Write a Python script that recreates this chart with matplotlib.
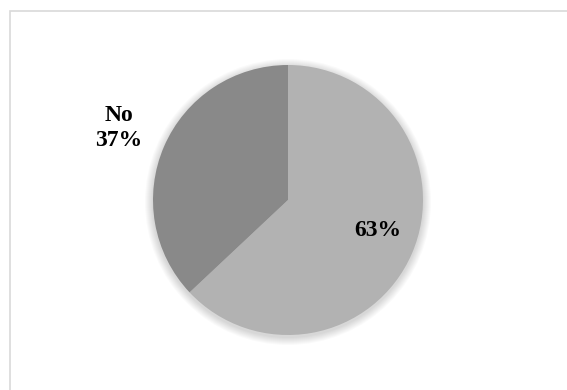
import matplotlib
matplotlib.use("Agg")
import matplotlib.pyplot as plt
import matplotlib.patches as patches

# Data
labels = ["Yes", "No"]
shares = [63, 37]
colors = ["#b2b2b2", "#898989"]

W, H = 567, 390
fig = plt.figure(figsize=(W / 100, H / 100), dpi=100)
ax = fig.add_axes([0, 0, 1, 1])

cx, cy, r = 288, H - 200, 135

# soft shadow behind the pie
for k in range(8, 0, -1):
    ax.add_patch(patches.Circle((cx, cy - 2), r + k, fc="#000000", ec="none",
                                alpha=0.018, zorder=0))

ax.pie(shares, colors=colors, startangle=90, counterclock=False,
       center=(cx, cy), radius=r, frame=True,
       wedgeprops=dict(linewidth=0))
ax.set_xlim(0, W)
ax.set_ylim(0, H)
ax.axis("off")

font = dict(family="Liberation Serif", weight="bold", size=17, color="black")
ax.text(378, H - 231, f"{shares[0]}%", ha="center", va="center", **font)
ax.text(119, H - 128, f"{labels[1]}\n{shares[1]}%", ha="center", va="center",
        linespacing=1.22, **font)

# chart border
ax.add_patch(patches.Rectangle((9.5, -5), 600, H - 10.5 + 5, fill=False,
                               ec="#d9d9d9", lw=1.2, zorder=5))

fig.savefig("out.png", dpi=100)
